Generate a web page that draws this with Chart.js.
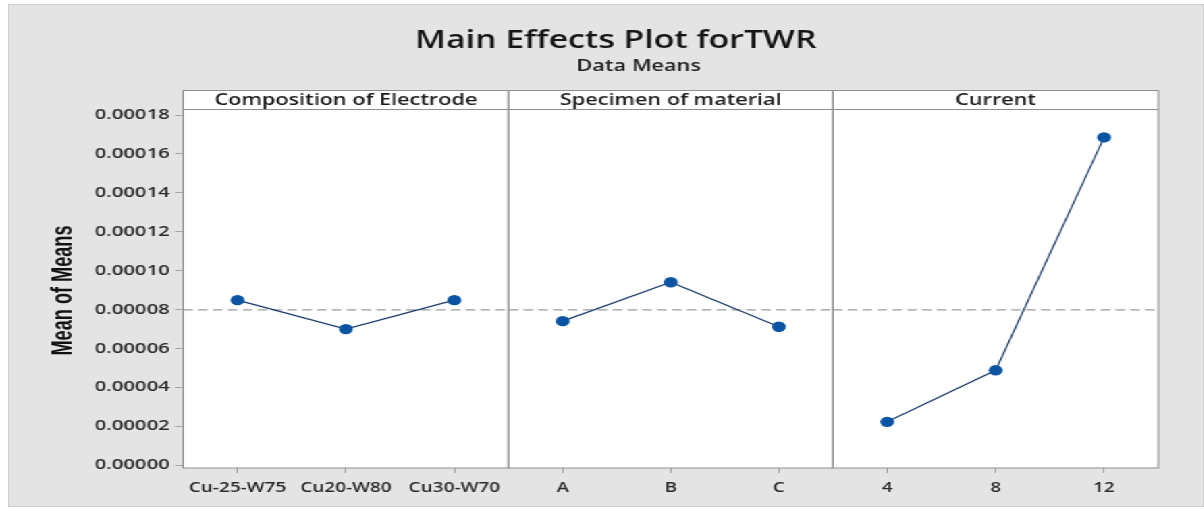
<!DOCTYPE html>
<html>
<head>
<meta charset="utf-8">
<title>Main Effects Plot for TWR</title>
<script src="https://cdn.jsdelivr.net/npm/chart.js@4/dist/chart.umd.min.js"></script>
<style>
  html, body { margin: 0; padding: 0; width: 1204px; height: 510px; overflow: hidden; background: #ffffff; }
  #frame { position: absolute; left: 8px; top: 4px; width: 1196px; height: 503px;
           background: #e4e4e4; border: 1px solid #cdcdcd; box-sizing: border-box; }
  #stage { position: absolute; left: 0; top: 0; height: 510px; transform-origin: 0 0; }
  .layer { position: absolute; left: 0; top: 0; height: 510px; }
</style>
</head>
<body>
<div id="frame"></div>
<div id="stage">
  <div class="layer"><canvas id="panel1"></canvas></div>
  <div class="layer"><canvas id="panel2"></canvas></div>
  <div class="layer"><canvas id="panel3"></canvas></div>
</div>
<script>
// ---- data: mean TWR at each factor level ----
const compositionLevels = ['Cu-25-W75', 'Cu20-W80', 'Cu30-W70'];
const compositionMeans  = [0.0000848, 0.0000699, 0.0000848];

const specimenLevels = ['A', 'B', 'C'];
const specimenMeans  = [0.0000740, 0.0000940, 0.0000711];

const currentLevels = ['4', '8', '12'];
const currentMeans  = [0.0000222, 0.0000487, 0.0001685];

const panelTitles = ['Composition of Electrode', 'Specimen of material', 'Current'];
const yTickValues = [0, 0.00002, 0.00004, 0.00006, 0.00008, 0.00010, 0.00012, 0.00014, 0.00016, 0.00018];

const chartTitle = 'Main Effects Plot forTWR';
const chartSubtitle = 'Data Means';
const yAxisTitle = 'Mean of Means';

// reference line: overall mean of all level means
const allMeans = compositionMeans.concat(specimenMeans, currentMeans);
const grandMean = allMeans.reduce((s, v) => s + v, 0) / allMeans.length;

// ---- layout ----
const STRETCH = 1.35;                 // the whole figure is drawn horizontally widened
const W = 1204 / STRETCH, H = 510;
const edges = [183, 508, 832, 1157].map(x => x / STRETCH);
const HEADER_TOP = 90, AREA_TOP = 109, X_AXIS_H = 42;
const Y_MIN = -0.00000154, Y_MAX = 0.0001831;
const AXIS_LEFT = 30;

const stage = document.getElementById('stage');
stage.style.width = W + 'px';
stage.style.transform = 'scaleX(' + STRETCH + ')';
document.querySelectorAll('.layer').forEach(d => { d.style.width = W + 'px'; });

const FONT = "'Open Sans', 'Noto Sans', sans-serif";
Chart.defaults.font.family = FONT;
Chart.defaults.color = '#2b2b2b';

const panelFrame = {
  id: 'panelFrame',
  beforeDraw(chart) {
    const { ctx, chartArea: a } = chart;
    ctx.save();
    ctx.fillStyle = '#ffffff';
    ctx.fillRect(a.left, HEADER_TOP, a.right - a.left, a.bottom - HEADER_TOP);
    ctx.restore();
  },
  beforeDatasetsDraw(chart) {
    const { ctx, chartArea: a } = chart;
    const py = chart.scales.y.getPixelForValue(grandMean);
    ctx.save();
    ctx.setLineDash([7, 4]);
    ctx.strokeStyle = '#9c9c9c';
    ctx.lineWidth = 1.3;
    ctx.beginPath();
    ctx.moveTo(a.left, py);
    ctx.lineTo(a.right, py);
    ctx.stroke();
    ctx.restore();
  },
  afterDraw(chart, args, opts) {
    const { ctx, chartArea: a } = chart;
    ctx.save();
    ctx.strokeStyle = '#8e8e8e';
    ctx.lineWidth = 1;
    ctx.strokeRect(a.left, HEADER_TOP + 0.5, a.right - a.left, a.bottom - HEADER_TOP - 0.5);
    ctx.beginPath();
    ctx.moveTo(a.left, a.top + 0.5);
    ctx.lineTo(a.right, a.top + 0.5);
    ctx.stroke();

    ctx.fillStyle = '#1c1c1c';
    ctx.textAlign = 'center';
    ctx.textBaseline = 'middle';
    ctx.font = "600 16px " + FONT;
    ctx.fillText(opts.header, (a.left + a.right) / 2, (HEADER_TOP + AREA_TOP) / 2 + 0.5);

    if (opts.showTitle) {
      ctx.textBaseline = 'alphabetic';
      ctx.fillStyle = '#151515';
      ctx.font = "600 25px " + FONT;
      ctx.fillText(chartTitle, 615 / STRETCH, 48);
      ctx.fillStyle = '#222222';
      ctx.font = "600 16px " + FONT;
      ctx.fillText(chartSubtitle, 638 / STRETCH, 71);

      // vertical axis title, condensed bold
      ctx.save();
      ctx.translate(63 / STRETCH, (a.top + a.bottom) / 2 + 2);
      ctx.rotate(-Math.PI / 2);
      ctx.font = "bold 22px 'Liberation Sans', 'DejaVu Sans', sans-serif";
      const natural = ctx.measureText(yAxisTitle).width;
      ctx.scale(130 / natural, 1);
      ctx.fillStyle = '#111111';
      ctx.textAlign = 'center';
      ctx.textBaseline = 'middle';
      ctx.fillText(yAxisTitle, 0, 0);
      ctx.restore();
    }
    ctx.restore();
  }
};

function makePanel(id, index, labels, values) {
  const first = index === 0;
  const left = edges[index], right = edges[index + 1];
  return new Chart(document.getElementById(id), {
    type: 'line',
    data: {
      labels: labels,
      datasets: [{
        data: values,
        borderColor: '#1d3c6e',
        borderWidth: 1.2,
        pointRadius: 5.2,
        pointBackgroundColor: '#0b54a3',
        pointBorderColor: '#0b54a3',
        pointBorderWidth: 0,
        tension: 0,
        fill: false
      }]
    },
    options: {
      responsive: true,
      maintainAspectRatio: false,
      animation: false,
      events: [],
      layout: {
        padding: {
          left: first ? AXIS_LEFT : left,
          right: W - right,
          top: AREA_TOP,
          bottom: 0
        }
      },
      plugins: {
        legend: { display: false },
        tooltip: { enabled: false },
        panelFrame: { header: panelTitles[index], showTitle: first }
      },
      scales: {
        x: {
          type: 'category',
          offset: true,
          border: { display: false },
          grid: { drawOnChartArea: false, drawTicks: true, tickLength: 5, color: '#a5a5a5', offset: false },
          ticks: {
            autoSkip: false, maxRotation: 0, padding: 7,
            color: '#2b2b2b',
            font: { size: 14, weight: '600' }
          },
          afterFit(scale) { scale.height = X_AXIS_H; }
        },
        y: {
          type: 'linear',
          display: first,
          min: Y_MIN,
          max: Y_MAX,
          border: { display: false },
          grid: { drawOnChartArea: false, drawTicks: true, tickLength: 6, color: '#a5a5a5' },
          afterBuildTicks(scale) { scale.ticks = yTickValues.map(v => ({ value: v })); },
          ticks: {
            padding: 4,
            color: '#2b2b2b',
            font: { size: 15, weight: '600' },
            callback: v => Number(v).toFixed(5)
          },
          title: { display: false },
          afterFit(scale) { if (first) scale.width = edges[0] - AXIS_LEFT; }
        }
      }
    },
    plugins: [panelFrame]
  });
}

makePanel('panel1', 0, compositionLevels, compositionMeans);
makePanel('panel2', 1, specimenLevels, specimenMeans);
makePanel('panel3', 2, currentLevels, currentMeans);
</script>
</body>
</html>
